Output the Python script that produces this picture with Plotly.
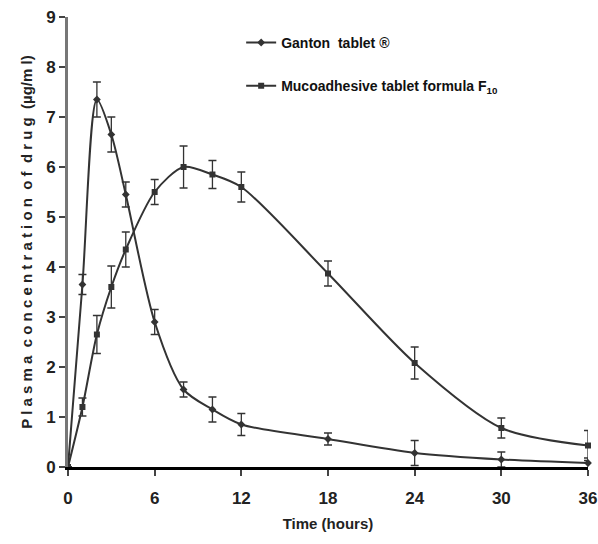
import plotly.graph_objects as go

time_h = [0, 1, 2, 3, 4, 6, 8, 10, 12, 18, 24, 30, 36]
ganton = [0, 3.65, 7.35, 6.65, 5.45, 2.9, 1.55, 1.15, 0.85, 0.56, 0.28, 0.15, 0.08]
ganton_err = [0, 0.2, 0.35, 0.35, 0.25, 0.25, 0.15, 0.25, 0.22, 0.12, 0.25, 0.15, 0.1]
muco = [0, 1.2, 2.65, 3.6, 4.35, 5.5, 6.0, 5.85, 5.6, 3.87, 2.08, 0.78, 0.43]
muco_err = [0, 0.18, 0.38, 0.42, 0.35, 0.25, 0.42, 0.28, 0.3, 0.25, 0.32, 0.2, 0.3]

x_ticks = [0, 6, 12, 18, 24, 30, 36]
y_ticks = [0, 1, 2, 3, 4, 5, 6, 7, 8, 9]

names = ["<b>Ganton  tablet ®</b>", "<b>Mucoadhesive tablet formula F<sub>10</sub></b>"]

col = "#333333"
font_fam = "Liberation Sans Narrow, Arial Narrow, Liberation Sans, Arial, sans-serif"

fig = go.Figure()
fig.add_trace(go.Scatter(
    x=time_h, y=ganton, mode="lines+markers", name=names[0],
    legendgroup="g1",
    line=dict(color=col, width=2, shape="spline", smoothing=0.8),
    marker=dict(symbol="diamond", size=6, color=col),
    error_y=dict(type="data", array=ganton_err, visible=True, color=col, thickness=1.3, width=4),
    cliponaxis=False,
))
fig.add_trace(go.Scatter(
    x=time_h, y=muco, mode="lines+markers", name=names[1],
    legendgroup="g2",
    line=dict(color=col, width=2, shape="spline", smoothing=0.8),
    marker=dict(symbol="square", size=6, color=col),
    error_y=dict(type="data", array=muco_err, visible=True, color=col, thickness=1.3, width=4),
    cliponaxis=False,
))

fig.update_layout(
    width=598, height=544,
    margin=dict(l=68, r=10, t=17, b=77),
    paper_bgcolor="white", plot_bgcolor="white",
    font=dict(family=font_fam, color="#222222", size=14),
    showlegend=True,
    legend=dict(
        x=0.333, y=0.978, xanchor="left", yanchor="top",
        bgcolor="rgba(0,0,0,0)", tracegroupgap=22,
        font=dict(family=font_fam, size=14, color="#111111"),
        itemwidth=30,
    ),
    xaxis=dict(
        range=[0, 36], tickvals=x_ticks, ticktext=["<b>%d</b>" % v for v in x_ticks],
        showgrid=False, zeroline=False, showline=True, linecolor="black", linewidth=3,
        ticks="outside", ticklen=6, tickwidth=1.5, tickcolor="#444444",
        tickfont=dict(family=font_fam, size=17, color="#222222"),
        ticklabelstandoff=8, automargin=False,
        title=dict(text="<b>Time (hours)</b>", font=dict(family=font_fam, size=15, color="#222222"), standoff=12),
    ),
    yaxis=dict(
        range=[0, 9], tickvals=y_ticks, ticktext=["<b>%d</b>" % v for v in y_ticks],
        showgrid=False, zeroline=False, showline=True, linecolor="#777777", linewidth=3,
        ticks="outside", ticklen=6, tickwidth=1.5, tickcolor="#444444",
        tickfont=dict(family=font_fam, size=17, color="#222222"),
        automargin=False,
        title=dict(text="<b>P l a s m a  c o n c e n t r a t i o n  o f  d r u g  (µg/m l)</b>",
                   font=dict(family=font_fam, size=15, color="#222222"), standoff=10),
    ),
)

fig.write_html("out.html")
